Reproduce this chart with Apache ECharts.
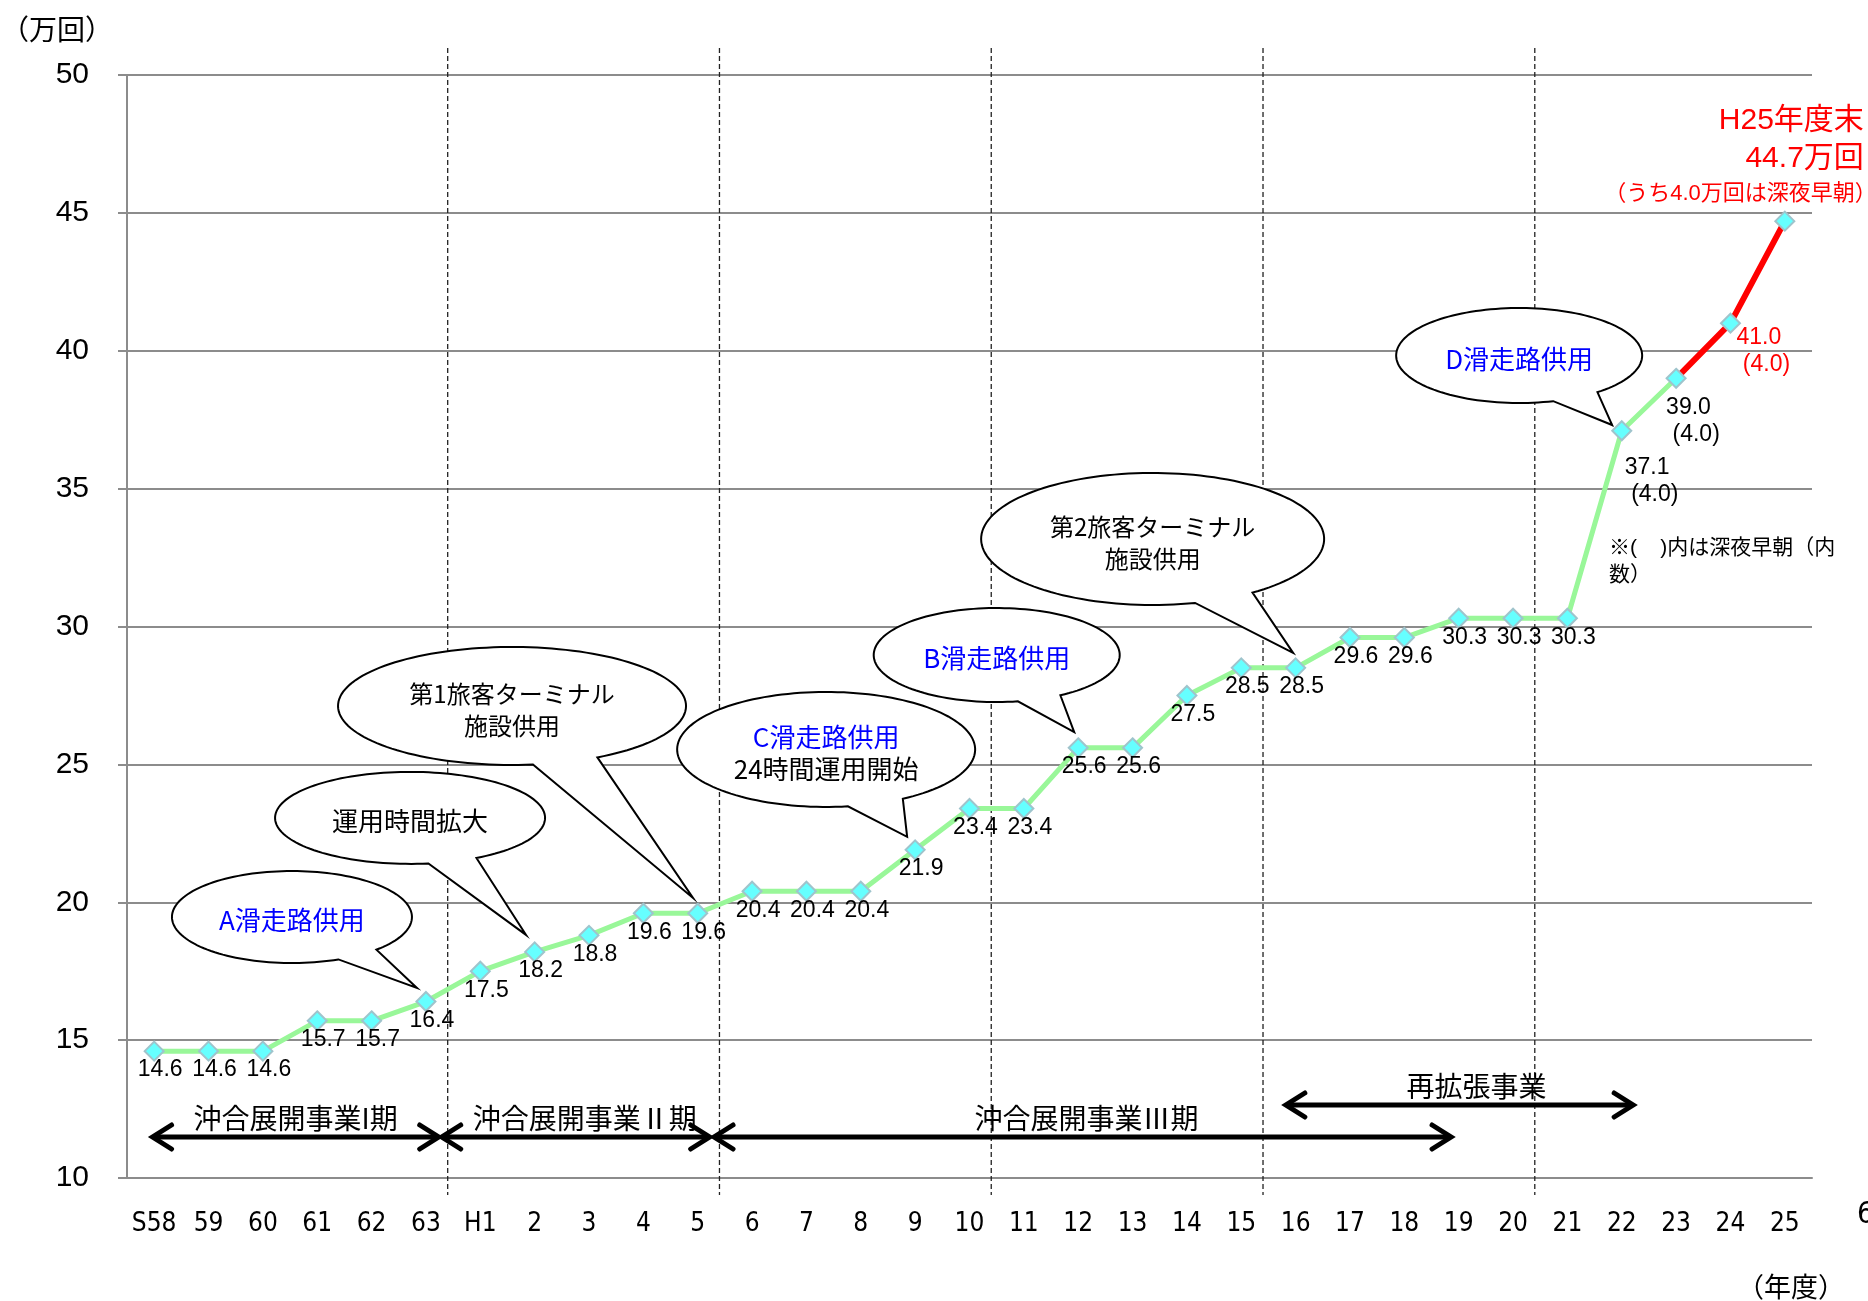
<!DOCTYPE html>
<html>
<head>
<meta charset="utf-8">
<script src="https://cdn.jsdelivr.net/npm/echarts@6/dist/echarts.min.js"></script>
<style>
  html, body { margin: 0; padding: 0; background: #ffffff; }
  #chart { width: 1868px; height: 1301px; }
</style>
</head>
<body>
<div id="chart"></div>
<script>
// 羽田空港 年間発着枠の推移（万回）
const fiscalYears = ['S58','59','60','61','62','63','H1','2','3','4','5','6','7','8','9','10',
  '11','12','13','14','15','16','17','18','19','20','21','22','23','24','25'];
const slotCapacity = [14.6,14.6,14.6,15.7,15.7,16.4,17.5,18.2,18.8,19.6,19.6,20.4,20.4,20.4,21.9,
  23.4,23.4,25.6,25.6,27.5,28.5,28.5,29.6,29.6,30.3,30.3,30.3,37.1,39.0,41.0,44.7];
// 深夜早朝枠（内数）
const lateNightSlots = [null,null,null,null,null,null,null,null,null,null,null,null,null,null,null,
  null,null,null,null,null,null,null,null,null,null,null,null,4.0,4.0,4.0,4.0];
const planFromYear = '23';          // 計画値（赤線）の始点
const valueAxisMin = 10, valueAxisMax = 50, valueAxisStep = 5;

// 吹き出し（供用開始など）
const milestoneYears = ['63','2','5','9','12','16','22'];
const milestoneTexts = [
  ['A滑走路供用'],
  ['運用時間拡大'],
  ['第1旅客ターミナル','施設供用'],
  ['C滑走路供用','24時間運用開始'],
  ['B滑走路供用'],
  ['第2旅客ターミナル','施設供用'],
  ['D滑走路供用']
];
// 事業期間
const projectNames = ['沖合展開事業I期','沖合展開事業Ⅱ期','沖合展開事業Ⅲ期','再拡張事業'];
// 期間の区切り（この年度の手前に破線）
const dividerYears = ['H1','6','11','16','21'];

// ---- layout / style ----
const LATIN = "'Liberation Sans', 'Noto Sans CJK JP', sans-serif";
const NARROW = "'Liberation Sans Narrow', 'DejaVu Sans Condensed', 'Liberation Sans', sans-serif";
const JP = "'Noto Sans CJK JP', 'Liberation Sans', sans-serif";
const GRID_GRAY = '#8c8c8c';
const BLUE = '#0000FF', BLACK = '#000000', RED = '#FF0000';

const bubbleLayout = [
  { c: [-134, -84.5],   r: [120, 46],   b1: [47.1, 43],  b2: [85.3, 33],   tip: [-9, -13.5], size: 26, colors: [BLUE] },
  { c: [-124.6, -134],  r: [135, 46],   b1: [18.5, 46],  b2: [66.3, 40],   tip: [-8.6, -17], size: 26, colors: [BLACK] },
  { c: [-185.7, -207.3],r: [174, 59],   b1: [20, 56],    b2: [83, 50],     tip: [-4.7, -15.3], size: 24, colors: [BLACK, BLACK] },
  { c: [-89, -100.4],   r: [149, 57.5], b1: [22, 57.5],  b2: [77, 49.5],   tip: [-8, -13], size: 26, colors: [BLUE, BLACK] },
  { c: [-81.5, -92.8],  r: [123, 47],   b1: [21.5, 47],  b2: [66.5, 42],   tip: [-4, -15.8], size: 26, colors: [BLUE] },
  { c: [-143, -128.9],  r: [171.5, 66], b1: [42.5, 64],  b2: [100.5, 54],  tip: [-2.5, -15], size: 24, colors: [BLACK, BLACK] },
  { c: [-102.6, -75.2], r: [123, 47.5], b1: [34, 45.5],  b2: [78, 36.5],   tip: [-9.6, -5.7], size: 26, colors: [BLUE] }
];
// arrows: [start, end] in category units, and row (0 = lower, 1 = upper)
const projectArrowLayout = [
  { span: [-0.03, 5.235], row: 0, textDx: 0 },
  { span: [5.29, 10.22],  row: 0, textDx: 9 },
  { span: [10.3, 23.86],  row: 0, textDx: 4 },
  { span: [20.82, 27.21], row: 1, textDx: 17 }
];
// label placement for the points carrying a late-night share
const specialLabelOffset = { 27: [3, 23], 28: [-10, 16], 29: [6, 1] };

const planStart = fiscalYears.indexOf(planFromYear);
const lastIdx = slotCapacity.length - 1;
const actualLine = slotCapacity.map((v, i) => (i <= planStart ? v : '-'));
const planLine = slotCapacity.map((v, i) => (i >= planStart ? v : '-'));

const markerData = slotCapacity.map((v, i) => {
  const item = { value: v };
  if (i === lastIdx) {
    item.label = { show: false };
  } else if (lateNightSlots[i] != null) {
    item.label = {
      show: true,
      position: 'inside',
      align: 'left',
      verticalAlign: 'top',
      lineHeight: 27,
      offset: specialLabelOffset[i] || [4, 18],
      color: i > planStart ? RED : BLACK
    };
  }
  return item;
});

const option = {
  animation: false,
  backgroundColor: '#ffffff',
  grid: { left: 127, right: 56, top: 75, bottom: 123, containLabel: false },
  xAxis: {
    type: 'category',
    data: fiscalYears,
    boundaryGap: true,
    axisLine: { show: true, lineStyle: { color: GRID_GRAY, width: 2 } },
    axisTick: { show: false },
    axisLabel: { interval: 0, margin: 33, fontSize: 26, color: BLACK, fontFamily: NARROW }
  },
  yAxis: {
    type: 'value',
    min: valueAxisMin,
    max: valueAxisMax,
    interval: valueAxisStep,
    axisLine: { show: true, lineStyle: { color: GRID_GRAY, width: 2 } },
    axisTick: { show: true, length: 9, lineStyle: { color: GRID_GRAY, width: 2 } },
    axisLabel: { margin: 38, fontSize: 30, color: BLACK, fontFamily: LATIN },
    splitLine: { show: true, lineStyle: { color: GRID_GRAY, width: 2 } }
  },
  series: [
    {
      type: 'line', name: '実績', data: actualLine, symbol: 'none', z: 2,
      lineStyle: { color: '#99F799', width: 5 }
    },
    {
      type: 'line', name: '計画', data: planLine, symbol: 'none', z: 3,
      lineStyle: { color: RED, width: 6 }
    },
    {
      type: 'line', name: '発着枠', data: markerData, z: 4,
      symbol: 'diamond', symbolSize: 19,
      itemStyle: { color: '#66FFFF', borderColor: '#9FC4CC', borderWidth: 2 },
      lineStyle: { width: 0, opacity: 0 },
      label: {
        show: true,
        position: 'inside',
        offset: [6, 19],
        fontSize: 23,
        fontFamily: LATIN,
        color: BLACK,
        formatter: (p) => {
          const n = lateNightSlots[p.dataIndex];
          const v = slotCapacity[p.dataIndex].toFixed(1);
          return n != null ? v + '\n (' + n.toFixed(1) + ')' : v;
        }
      }
    }
  ]
};

const chart = echarts.init(document.getElementById('chart'), null, { renderer: 'canvas' });
chart.setOption(option);

function pt(i, v) { return chart.convertToPixel({ gridIndex: 0 }, [i, v]); }
const x0 = pt(0, valueAxisMin)[0];
const step = pt(1, valueAxisMin)[0] - x0;
const xAt = (f) => x0 + f * step;
const yAt = (v) => pt(0, v)[1];

function font(size, fam) { return size + 'px ' + fam; }
function textEl(text, x, y, size, fam, color, align, z) {
  return {
    type: 'text', z: z || 10,
    style: {
      text: text, x: x, y: y, font: font(size, fam), fill: color,
      align: align || 'center', textAlign: align || 'center',
      verticalAlign: 'middle', textVerticalAlign: 'middle'
    }
  };
}
const measureCtx = document.createElement('canvas').getContext('2d');
function textWidth(text, size, fam) {
  measureCtx.font = font(size, fam);
  return measureCtx.measureText(text).width;
}
// full-width brackets around a text, each bracket given a full em
function bracketed(inner, x, y, size, fam, color, align) {
  const w = textWidth(inner, size, fam);
  const total = w + 2 * size;
  const left = align === 'right' ? x - total : align === 'center' ? x - total / 2 : x;
  return [
    textEl('（', left + size, y, size, fam, color, 'right'),
    textEl(inner, left + size, y, size, fam, color, 'left'),
    textEl('）', left + size + w, y, size, fam, color, 'left')
  ];
}

function bubblePoints(cx, cy, rx, ry, b1, b2, tip) {
  let a = Math.atan2(b1[1] / ry, b1[0] / rx);
  let b = Math.atan2(b2[1] / ry, b2[0] / rx);
  let d = b - a;
  while (d <= -Math.PI) d += 2 * Math.PI;
  while (d > Math.PI) d -= 2 * Math.PI;
  if (d < 0) { const t = a; a = b; b = t; d = -d; }
  const end = b + (2 * Math.PI - d);
  const pts = [];
  const N = 140;
  for (let k = 0; k <= N; k++) {
    const t = b + (end - b) * k / N;
    pts.push([cx + rx * Math.cos(t), cy + ry * Math.sin(t)]);
  }
  pts.push(tip);
  return pts;
}

const graphics = [];

// 期間区切りの破線
const topY = yAt(valueAxisMax) - 27;
const botY = yAt(valueAxisMin) + 17;
dividerYears.forEach((yr) => {
  const x = xAt(fiscalYears.indexOf(yr) - 0.6);
  graphics.push({
    type: 'line', z: 1,
    shape: { x1: x, y1: topY, x2: x, y2: botY },
    style: { stroke: '#222', lineWidth: 1.3, lineDash: [5, 3] }
  });
});

// 吹き出し
milestoneYears.forEach((yr, k) => {
  const i = fiscalYears.indexOf(yr);
  const p = pt(i, slotCapacity[i]);
  const L = bubbleLayout[k];
  const cx = p[0] + L.c[0], cy = p[1] + L.c[1];
  graphics.push({
    type: 'polygon', z: 5,
    shape: { points: bubblePoints(cx, cy, L.r[0], L.r[1], L.b1, L.b2, [p[0] + L.tip[0], p[1] + L.tip[1]]) },
    style: { fill: '#ffffff', stroke: '#000000', lineWidth: 2, lineJoin: 'miter' }
  });
  const lines = milestoneTexts[k];
  const lh = 32;
  lines.forEach((t, j) => {
    const ty = cy + 3.5 + (j - (lines.length - 1) / 2) * lh;
    graphics.push(textEl(t, cx, ty, L.size, JP, L.colors[j], 'center', 6));
  });
});

// 事業期間の矢印
const arrowRowY = [yAt(valueAxisMin) - 41, yAt(valueAxisMin) - 73];
function arrowHead(x, y, dir) {
  return {
    type: 'polyline', z: 4,
    shape: { points: [[x + dir * 19, y - 12], [x, y], [x + dir * 19, y + 12]] },
    style: { stroke: '#000', lineWidth: 5, fill: null, lineCap: 'round', lineJoin: 'miter' }
  };
}
projectNames.forEach((name, k) => {
  const A = projectArrowLayout[k];
  const xa = xAt(A.span[0]), xb = xAt(A.span[1]);
  const y = arrowRowY[A.row];
  graphics.push({
    type: 'line', z: 4,
    shape: { x1: xa + 2, y1: y, x2: xb - 2, y2: y },
    style: { stroke: '#000', lineWidth: 5 }
  });
  graphics.push(arrowHead(xa, y, 1));
  graphics.push(arrowHead(xb, y, -1));
  graphics.push(textEl(name, (xa + xb) / 2 + A.textDx, y - 19, 28, JP, BLACK, 'center', 6));
});

// 最終年度の注記
const lastPt = pt(lastIdx, slotCapacity[lastIdx]);
const lastYear = 'H' + fiscalYears[lastIdx] + '年度末';
graphics.push(textEl(lastYear, lastPt[0] + 79, lastPt[1] - 100, 30, LATIN, RED, 'right'));
graphics.push(textEl(slotCapacity[lastIdx].toFixed(1) + '万回', lastPt[0] + 79, lastPt[1] - 62, 30, LATIN, RED, 'right'));
graphics.push(...bracketed('うち' + lateNightSlots[lastIdx].toFixed(1) + '万回は深夜早朝',
  lastPt[0] + 92, lastPt[1] - 27, 22, LATIN, RED, 'right'));

// 括弧内の説明
graphics.push(textEl('※(    )内は深夜早朝（内', 1609, 548, 21, LATIN, BLACK, 'left'));
graphics.push(textEl('数）', 1609, 575, 21, LATIN, BLACK, 'left'));

// 軸の単位
graphics.push(...bracketed('万回', 1, 29, 28, JP, BLACK, 'left'));
graphics.push(...bracketed('年度', 1791, 1287, 27, JP, BLACK, 'center'));

// ページ番号
graphics.push(textEl('6', 1857, 1215, 30, NARROW, BLACK, 'left'));

chart.setOption({ graphic: { elements: graphics } });
</script>
</body>
</html>
